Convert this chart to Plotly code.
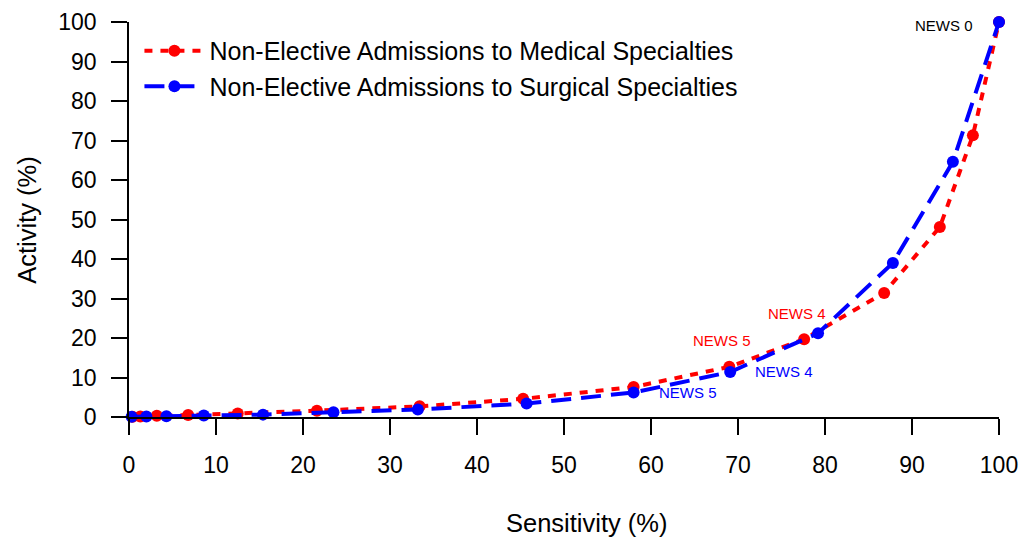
import plotly.graph_objects as go

# Sensitivity (%) and activity (%) for each NEWS threshold
med_sens = [0.4, 1.3, 3.2, 6.8, 12.5, 21.6, 33.4, 45.3, 58.0, 69.0, 77.6, 86.8, 93.2, 97.0, 100.0]
med_act = [0.05, 0.15, 0.3, 0.5, 0.9, 1.6, 2.7, 4.6, 7.6, 12.7, 19.7, 31.4, 48.1, 71.3, 100.0]

surg_sens = [0.3, 2.0, 4.3, 8.6, 15.4, 23.5, 33.2, 45.7, 58.0, 69.1, 79.2, 87.8, 94.7, 100.0]
surg_act = [0.05, 0.1, 0.2, 0.4, 0.6, 1.2, 1.9, 3.4, 6.2, 11.4, 21.2, 39.0, 64.6, 100.0]

x_ticks = [0, 10, 20, 30, 40, 50, 60, 70, 80, 90, 100]
y_ticks = [0, 10, 20, 30, 40, 50, 60, 70, 80, 90, 100]

RED = "#ff0000"
BLUE = "#0000ff"
FONT = "Liberation Sans, Arial, sans-serif"

fig = go.Figure()
fig.add_trace(go.Scatter(
    x=med_sens, y=med_act, mode="lines+markers",
    name="Non-Elective Admissions to Medical Specialties",
    line=dict(color=RED, width=4, dash="8px,8px"),
    marker=dict(color=RED, size=12),
    cliponaxis=False,
))
fig.add_trace(go.Scatter(
    x=surg_sens, y=surg_act, mode="lines+markers",
    name="Non-Elective Admissions to Surgical Specialties",
    line=dict(color=BLUE, width=4, dash="20px,10px"),
    marker=dict(color=BLUE, size=12),
    cliponaxis=False,
))

# NEWS threshold labels
def news_label(x, y, text, color, xanchor, xshift, yshift):
    fig.add_annotation(x=x, y=y, xref="x", yref="y", text=text, showarrow=False,
                       xanchor=xanchor, yanchor="middle", xshift=xshift, yshift=yshift,
                       font=dict(family=FONT, size=15, color=color))

news_label(med_sens[-1], med_act[-1], "NEWS 0", "black", "right", -24, -3)
news_label(med_sens[10], med_act[10], "NEWS 4", RED, "center", -7, 26)
news_label(med_sens[9], med_act[9], "NEWS 5", RED, "center", -7, 26)
news_label(surg_sens[9], surg_act[9], "NEWS 4", BLUE, "left", 23, 0)
news_label(surg_sens[8], surg_act[8], "NEWS 5", BLUE, "left", 23, 0)

# Axis titles
fig.add_annotation(x=0.526, y=-0.268, xref="paper", yref="paper", text="Sensitivity (%)",
                   showarrow=False, xanchor="center", yanchor="middle",
                   font=dict(family=FONT, size=25.5, color="black"))
fig.add_annotation(x=-0.118, y=0.5, xref="paper", yref="paper", text="Activity (%)",
                   showarrow=False, xanchor="center", yanchor="middle", textangle=-90,
                   font=dict(family=FONT, size=25.5, color="black"))

axis_common = dict(
    showgrid=False, zeroline=False, showline=True, linecolor="black", linewidth=1.5,
    ticks="outside", ticklen=16, tickwidth=1.5, tickcolor="black", automargin=False,
    tickfont=dict(family=FONT, size=23, color="black"),
)
fig.update_xaxes(range=[0, 100], tickvals=x_ticks, ticktext=[str(v) for v in x_ticks],
                 ticklabelstandoff=11, **axis_common)
fig.update_yaxes(range=[0, 100], tickvals=y_ticks, ticktext=[str(v) for v in y_ticks],
                 ticklabelstandoff=10, **axis_common)

fig.update_layout(
    width=1024, height=546,
    margin=dict(l=129, r=25, t=22, b=129, autoexpand=False),
    paper_bgcolor="white", plot_bgcolor="white",
    font=dict(family=FONT, color="black"),
    showlegend=True,
    legend=dict(x=0.012, y=0.985, xanchor="left", yanchor="top", itemwidth=60,
                bgcolor="rgba(255,255,255,0)", font=dict(family=FONT, size=25, color="black"),
                tracegroupgap=0),
)

fig.write_html("out.html")
